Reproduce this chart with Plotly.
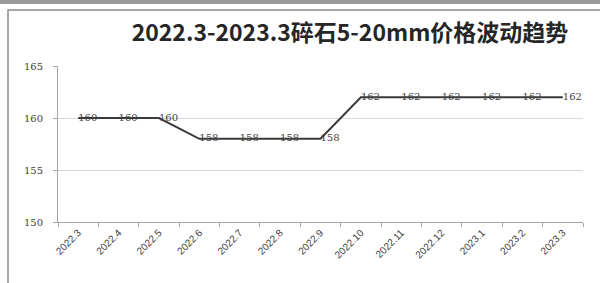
import plotly.graph_objects as go

categories = ["2022.3", "2022.4", "2022.5", "2022.6", "2022.7", "2022.8", "2022.9",
              "2022.10", "2022.11", "2022.12", "2023.1", "2023.2", "2023.3"]
prices = [160, 160, 160, 158, 158, 158, 158, 162, 162, 162, 162, 162, 162]
y_ticks = [150, 155, 160, 165]
title_text = "2022.3-2023.3碎石5-20mm价格波动趋势"

W, H = 600, 283
L, R, T, B = 58, 17, 66, 61
pw, ph = W - L - R, H - T - B

def px_x(p):
    return (p - L) / pw

def px_y(p):
    return (H - B - p) / ph

fig = go.Figure()
fig.add_trace(go.Scatter(
    x=categories, y=prices, mode="lines+text",
    text=[str(v) for v in prices], textposition="middle right",
    textfont=dict(family="DejaVu Serif", size=10, color="#404040"),
    line=dict(color="#3a3a3a", width=2),
    cliponaxis=False, showlegend=False,
))

shapes = [
    dict(type="rect", xref="paper", yref="paper",
         x0=px_x(8), x1=px_x(640), y0=px_y(330), y1=px_y(10),
         line=dict(color="#8c8c8c", width=1.5), fillcolor="rgba(0,0,0,0)", layer="below"),
    dict(type="rect", xref="paper", yref="paper",
         x0=px_x(0), x1=px_x(600), y0=px_y(4), y1=px_y(0),
         line=dict(width=0), fillcolor="#9a9a9a", layer="above"),
]

fig.update_layout(
    width=W, height=H,
    margin=dict(l=L, r=R, t=T, b=B, autoexpand=False),
    paper_bgcolor="white", plot_bgcolor="white",
    title=dict(text="<b>" + title_text + "</b>", x=350 / W, xanchor="center",
               y=1 - 33 / H, yanchor="middle",
               font=dict(family="Noto Sans CJK SC", size=23, color="#262626")),
    shapes=shapes,
    xaxis=dict(type="category", range=[-0.5, 12.5], tickson="boundaries",
               ticks="outside", ticklen=4, tickcolor="#a6a6a6", automargin=False,
               showline=True, linecolor="#a6a6a6", linewidth=1,
               showgrid=False, tickangle=-45,
               tickfont=dict(family="Liberation Sans", size=10, color="#404040")),
    yaxis=dict(range=[150, 165], tickvals=y_ticks, ticks="outside", ticklen=4, automargin=False,
               ticklabelstandoff=8,
               tickcolor="#a6a6a6", showline=True, linecolor="#a6a6a6", linewidth=1,
               showgrid=True, gridcolor="#d9d9d9", gridwidth=1, zeroline=False,
               tickfont=dict(family="DejaVu Serif", size=10, color="#404040")),
)

fig.write_html("out.html", config={"displayModeBar": False},
               post_script="document.body.style.margin='0';document.body.style.overflow='hidden';")
